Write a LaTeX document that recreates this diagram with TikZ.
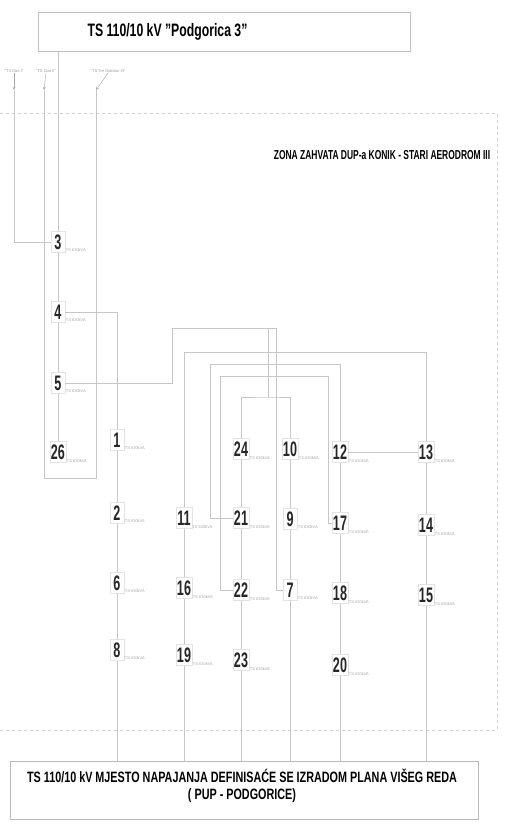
\documentclass[tikz,border=0pt]{standalone}
\usepackage{fontspec}
\setmainfont{Liberation Sans}
\usetikzlibrary{positioning}

\newcommand{\cond}[2][0.6]{\scalebox{#1}[1]{#2}}

\tikzset{
  ts/.style={draw=gray!22, line width=0.3pt, inner sep=1pt, minimum width=14, minimum height=21,
    font=\bfseries\fontsize{21}{21}\selectfont, text=black!85},
  kva/.style={font=\fontsize{4}{4}\selectfont, text=gray!70, inner sep=0.5pt},
  cable/.style={draw=gray!45, line width=0.5pt},
  zone/.style={draw=gray!35, dashed, line width=0.5pt},
  feed/.style={font=\fontsize{4}{4}\selectfont, text=gray!80, inner sep=0.5pt},
}

\begin{document}
\begin{tikzpicture}[x=1pt,y=-1pt,>=stealth]
\useasboundingbox (0,0) rectangle (508,826);

% napojna TS
\node[draw=gray!50, minimum width=372, minimum height=39] (top) at (224,32) {};
\node[anchor=west, font=\bfseries\fontsize{18}{18}\selectfont] (toptxt) at (84,32) {\cond[0.68]{TS 110/10 kV "Podgorica 3"}};

% zona zahvata
\draw[zone] (0,113) -- (497,113) -- (497,730) -- (0,730);
\node[font=\bfseries\fontsize{13}{13}\selectfont] (zona) at (382,155) {\cond[0.65]{ZONA ZAHVATA DUP-a KONIK - STARI AERODROM III}};

% dolazni vodovi
\node[feed] (f1) at (14,71) {"TS Doo I"};
\node[feed] (f2) at (46,71) {"TS Doo II"};
\node[feed] (f3) at (108,71) {"TS Tre Golubar III"};
\coordinate (a1) at (14,90);
\coordinate (a2) at (44,90);
\coordinate (a3) at (96,90);
\draw[->, gray!70] (f1.south) -- (a1);
\draw[->, gray!70] (f2.south) -- (a2);
\draw[->, gray!70] (f3.south) -- (a3);

% trafostanice
\node[ts, label={[kva]-40:TS 630kVA}] (n3) at (58,242) {\cond{3}};
\node[ts, label={[kva]-40:TS 630kVA}] (n4) at (58,312) {\cond{4}};
\node[ts, label={[kva]-40:TS 630kVA}] (n5) at (58,383) {\cond{5}};
\node[ts, label={[kva]-40:TS 630kVA}] (n26) at (58,452) {\cond{26}};

\node[ts, label={[kva]-40:TS 630kVA}] (n1) at (117,440) {\cond{1}};
\node[ts, label={[kva]-40:TS 630kVA}] (n2) at (117,513) {\cond{2}};
\node[ts, label={[kva]-40:TS 630kVA}] (n6) at (117,583) {\cond{6}};
\node[ts, label={[kva]-40:TS 630kVA}] (n8) at (117,650) {\cond{8}};

\node[ts, label={[kva]-40:TS 630kVA}] (n11) at (184,518) {\cond{11}};
\node[ts, label={[kva]-40:TS 630kVA}] (n16) at (184,588) {\cond{16}};
\node[ts, label={[kva]-40:TS 630kVA}] (n19) at (184,655) {\cond{19}};

\node[ts, label={[kva]-40:TS 630kVA}] (n24) at (241,449) {\cond{24}};
\node[ts, label={[kva]-40:TS 630kVA}] (n21) at (241,518) {\cond{21}};
\node[ts, label={[kva]-40:TS 630kVA}] (n22) at (241,590) {\cond{22}};
\node[ts, label={[kva]-40:TS 630kVA}] (n23) at (241,660) {\cond{23}};

\node[ts, label={[kva]-40:TS 630kVA}] (n10) at (290,449) {\cond{10}};
\node[ts, label={[kva]-40:TS 630kVA}] (n9) at (290,519) {\cond{9}};
\node[ts, label={[kva]-40:TS 630kVA}] (n7) at (290,590) {\cond{7}};

\node[ts, label={[kva]-40:TS 630kVA}] (n12) at (340,452) {\cond{12}};
\node[ts, label={[kva]-40:TS 630kVA}] (n17) at (340,523) {\cond{17}};
\node[ts, label={[kva]-40:TS 630kVA}] (n18) at (340,593) {\cond{18}};
\node[ts, label={[kva]-40:TS 630kVA}] (n20) at (340,665) {\cond{20}};

\node[ts, label={[kva]-40:TS 630kVA}] (n13) at (426,452) {\cond{13}};
\node[ts, label={[kva]-40:TS 630kVA}] (n14) at (426,525) {\cond{14}};
\node[ts, label={[kva]-40:TS 630kVA}] (n15) at (426,595) {\cond{15}};

% buduca TS 110/10 kV
\node[draw=gray!55, minimum width=468, minimum height=58] (bot) at (244,790) {};
\node[align=center, font=\bfseries\fontsize{15}{17}\selectfont] (bottxt) at (242,786)
  {\cond[0.72]{TS 110/10 kV MJESTO NAPAJANJA DEFINISAĆE SE IZRADOM PLANA VIŠEG REDA}\\
   \cond[0.72]{( PUP - PODGORICE)}};

% kablovi
\draw[cable] (top.south -| n3.north) -- (n3.north);
\draw[cable] (a1) |- (n3.west);
\draw[cable] (a2) -- (44,478) -- (96,478) -- (a3);
\draw[cable] (n3.south) -- (n4.north);
\draw[cable] (n4.south) -- (n5.north);
\draw[cable] (n5.south) -- (n26.north);
\draw[cable] (n4.east) -| (n1.north);
\draw[cable] (n5.east) -| (172,328) -| (276,590) -- (n7.west);
\draw[cable] (268,328) -- (268,397);
\draw[cable] (n24.north) |- (268,397) -| (n10.north);
\draw[cable] (n11.north) |- (n13.north |- 0,352) -- (n13.north);
\draw[cable] (n21.west) -| (210,364) -| (n12.north);
\draw[cable] (n22.west) -| (220,376) -| (328,523) -- (n17.west);
\draw[cable] (n12.east) -- (n13.west);

\draw[cable] (n1.south) -- (n2.north);
\draw[cable] (n2.south) -- (n6.north);
\draw[cable] (n6.south) -- (n8.north);
\draw[cable] (n11.south) -- (n16.north);
\draw[cable] (n16.south) -- (n19.north);
\draw[cable] (n24.south) -- (n21.north);
\draw[cable] (n21.south) -- (n22.north);
\draw[cable] (n22.south) -- (n23.north);
\draw[cable] (n10.south) -- (n9.north);
\draw[cable] (n9.south) -- (n7.north);
\draw[cable] (n12.south) -- (n17.north);
\draw[cable] (n17.south) -- (n18.north);
\draw[cable] (n18.south) -- (n20.north);
\draw[cable] (n13.south) -- (n14.north);
\draw[cable] (n14.south) -- (n15.north);

\draw[cable] (n8.south) -- (n8.south |- bot.north);
\draw[cable] (n19.south) -- (n19.south |- bot.north);
\draw[cable] (n23.south) -- (n23.south |- bot.north);
\draw[cable] (n7.south) -- (n7.south |- bot.north);
\draw[cable] (n20.south) -- (n20.south |- bot.north);
\draw[cable] (n15.south) -- (n15.south |- bot.north);
\end{tikzpicture}
\end{document}
